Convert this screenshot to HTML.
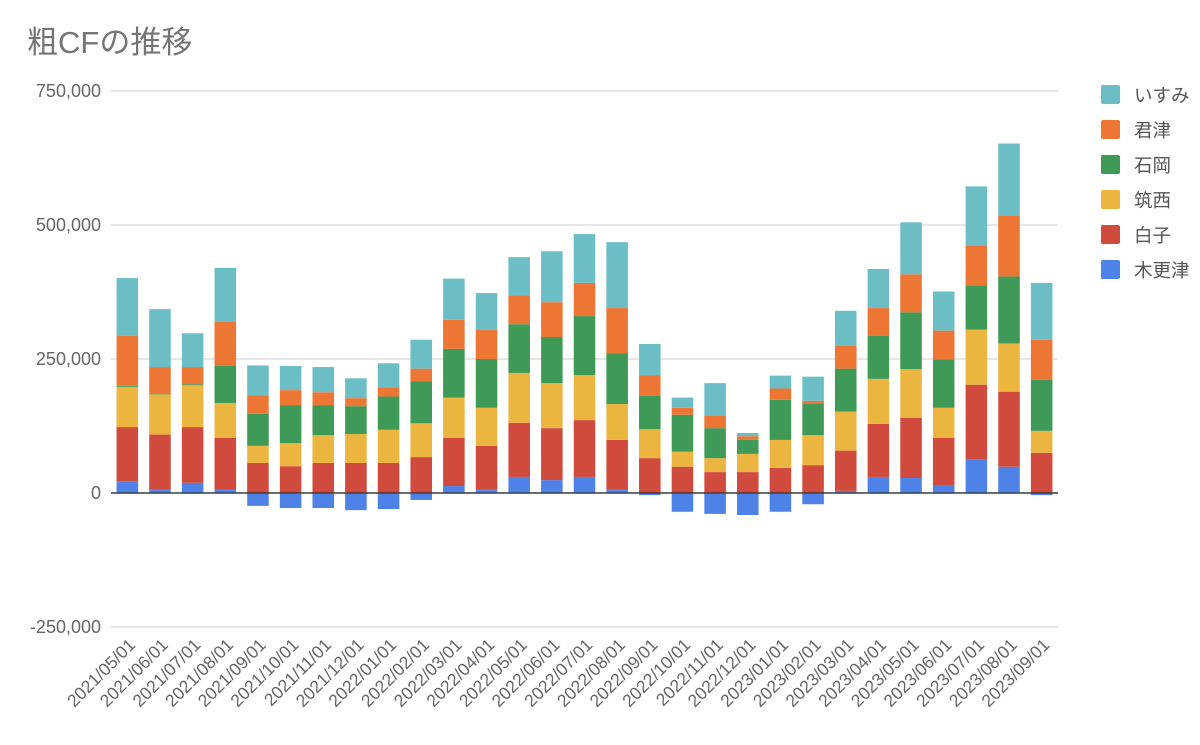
<!DOCTYPE html>
<html><head><meta charset="utf-8"><style>
body{margin:0;background:#fff;}
svg text{font-family:"Liberation Sans","Noto Sans CJK JP",sans-serif;}
</style></head><body>
<svg id="chart" width="1200" height="740" xmlns="http://www.w3.org/2000/svg">
<text x="27" y="53" font-size="31" fill="#757575">粗CFの推移</text>
<g id="grid"></g><g id="bars"></g><g id="xlabels"></g><g id="legend"></g>
</svg>
<script>
const categories=["2021/05/01","2021/06/01","2021/07/01","2021/08/01","2021/09/01","2021/10/01","2021/11/01","2021/12/01","2022/01/01","2022/02/01","2022/03/01","2022/04/01","2022/05/01","2022/06/01","2022/07/01","2022/08/01","2022/09/01","2022/10/01","2022/11/01","2022/12/01","2023/01/01","2023/02/01","2023/03/01","2023/04/01","2023/05/01","2023/06/01","2023/07/01","2023/08/01","2023/09/01"];
const kisarazu=[22,6,19,6,-24,-28,-28,-32,-30,-13,13,6,30,24,30,6,-4,-35,-39,-41,-35,-21,4,30,28,15,62,49,-4];
const shirako=[101,103,104,97,56,50,56,56,56,67,90,82,101,97,106,93,65,49,39,39,47,52,75,99,112,88,140,140,75];
const chikusei=[75,75,78,65,32,43,52,54,62,63,75,71,93,84,84,67,54,28,26,34,52,56,73,84,91,56,103,90,41];
const ishioka=[2,2,2,69,60,71,56,52,62,78,91,91,91,86,110,95,62,69,56,26,75,58,80,80,106,90,82,125,95];
const kimitsu=[93,49,32,82,34,28,24,15,17,24,54,54,54,65,62,84,39,13,24,7,21,6,43,52,71,54,75,114,75];
const isumi=[108,108,63,101,56,45,47,37,45,54,77,69,71,95,91,123,58,19,60,6,24,45,65,73,97,73,110,134,106];
const yTicks=[750,500,250,0,-250];
const yTickLabels=["750,000","500,000","250,000","0","-250,000"];
const seriesNames=["木更津","白子","筑西","石岡","君津","いすみ"];
const seriesData=[kisarazu,shirako,chikusei,ishioka,kimitsu,isumi];
const colors=["#4f82e6","#d04a3d","#ebb53f","#3f9957","#ee7634","#6bbec5"];
const NS="http://www.w3.org/2000/svg";
const x0=111,x1=1058,yZero=493,pxPer=134/250;
const y=v=>yZero-v*pxPer;
const band=(x1-x0)/categories.length;
const xc=i=>x0+band*(i+0.5);
function mk(t,a,p){const e=document.createElementNS(NS,t);for(const k in a)e.setAttribute(k,a[k]);p.appendChild(e);return e;}
const grid=document.getElementById('grid');
yTicks.forEach((t,i)=>{
  const l=mk('line',{x1:x0,x2:x1,y1:y(t),y2:y(t),stroke:t===0?'#333':'#ccc','stroke-width':t===0?1.3:1},grid);
  
  
  const tx=mk('text',{x:101,y:y(t)+6,'text-anchor':'end','font-size':18,fill:'#666'},grid);
  
  
  tx.textContent=yTickLabels[i];
});
const bars=document.getElementById('bars'),xl=document.getElementById('xlabels');
const bw=band*0.66;
categories.forEach((c,i)=>{
  let pos=0,neg=0;
  seriesData.forEach((s,k)=>{
    const v=s[i];let top,bot;
    if(v>=0){bot=pos;top=pos+v;pos=top;}else{top=neg;bot=neg+v;neg=bot;}
    const r=mk('rect',{x:xc(i)-bw/2,y:y(top),width:bw,height:Math.max(0,y(bot)-y(top)),fill:colors[k]},bars);
    
    
  });
  const tx=mk('text',{x:0,y:0,'text-anchor':'end','font-size':17.5,fill:'#666',transform:`translate(${xc(i)+9},${646}) rotate(-45)`},xl);
  
  
  tx.textContent=c;
});
const zl=mk('line',{x1:x0,x2:x1,y1:yZero,y2:yZero,stroke:'#333','stroke-width':1.3},bars);


const lg=document.getElementById('legend');
for(let k=5;k>=0;k--){
  const j=5-k,yy=85+j*35;
  const g=mk('g',{},lg);
  
  
  mk('rect',{x:1101,y:yy,width:19,height:19,rx:2,fill:colors[k]},g);
  const t=mk('text',{x:1134,y:yy+17,'font-size':18.5,fill:'#555'},g);
  t.textContent=seriesNames[k];
}
</script>
</body></html>
